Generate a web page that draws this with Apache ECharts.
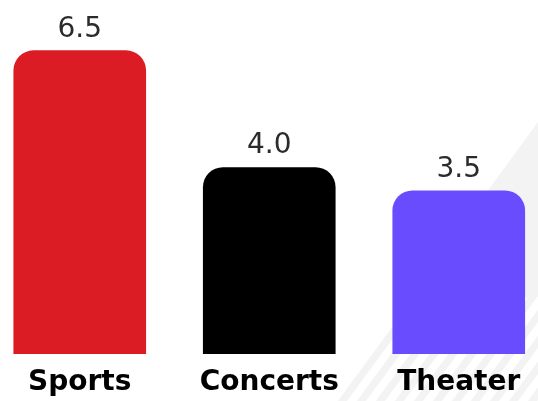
<!DOCTYPE html>
<html><head><meta charset="utf-8">
<script src="https://cdn.jsdelivr.net/npm/echarts@6/dist/echarts.min.js"></script>
<style>html,body{margin:0;padding:0;background:#fff}#c{width:538px;height:401px}</style>
</head><body><div id="c"></div>
<script>
const categories = ['Sports', 'Concerts', 'Theater'];
const values = [6.5, 4.0, 3.5];
const colors = ['#dc1c24', '#000000', '#6a4cff'];

const chart = echarts.init(document.getElementById('c'));
const deco = [];
// decorative diagonal background band (bottom-right)
deco.push({type:'polygon', z:-10, silent:true, shape:{points:[[538,122],[538,401],[334,401]]}, style:{fill:'#f3f3f3'}});
for (let i = 0; i < 12; i++) {
  const x0 = 330 + i*19;
  deco.push({type:'line', z:-9, silent:true, shape:{x1:x0, y1:405, x2:x0+80, y2:296}, style:{stroke:'#ffffff', lineWidth:8}});
}
chart.setOption({
  backgroundColor:'#ffffff',
  animation:false,
  graphic: deco,
  grid:{left:-15, width:568.5, top:27, bottom:47, containLabel:false, outerBoundsMode:'none'},
  xAxis:{type:'category', data:categories,
    axisLine:{show:false}, axisTick:{show:false},
    axisLabel:{color:'#000', fontFamily:'DejaVu Sans', fontWeight:'bold', fontSize:28, margin:15}},
  yAxis:{type:'value', min:0, max:7, show:false},
  series:[{type:'bar', barWidth:'70%',
    data: values.map((v,i)=>({value:v, itemStyle:{color:colors[i]}})),
    itemStyle:{borderRadius:[20,20,0,0]},
    label:{show:true, position:'top', distance:7, color:'#2b2b2b', fontFamily:'DejaVu Sans', fontSize:28,
      formatter:p=>p.value.toFixed(1)}}]
});
</script></body></html>
